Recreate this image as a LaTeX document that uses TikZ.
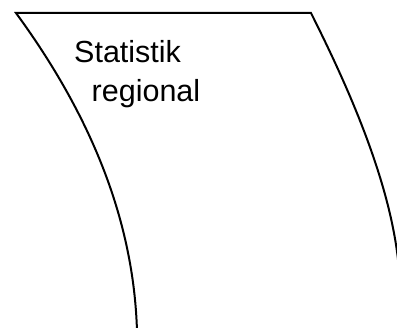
\documentclass[tikz,border=0pt]{standalone}
\usepackage{fontspec}
\setmainfont{Liberation Sans}
\usetikzlibrary{calc}
\definecolor{sheetline}{RGB}{0,0,0}
\tikzset{
  sheetedge/.style={draw=sheetline,line width=2pt,line join=miter},
  sheettext/.style={font=\fontsize{30.5}{36}\selectfont,inner sep=0pt,anchor=base west}
}

\begin{document}
\begin{tikzpicture}[x=1pt,y=-1pt]
    \useasboundingbox (0,0) rectangle (397,328);
    % corners of the curved sheet
    \coordinate (topleft) at (16,13);
    \coordinate (topright) at (311,13);
    \coordinate (footleft) at (137,331);
    \coordinate (footright) at (399,270);
    \draw[sheetedge] (footleft) .. controls (134,230) and (98,125) .. (topleft)
      -- (topright) .. controls (342,75) and (392,180) .. (footright);
    \node[sheettext] (title) at (74,63) {Statistik};
    \node[sheettext] (region) at (91.5,102) {regional};
  \end{tikzpicture}
\end{document}
